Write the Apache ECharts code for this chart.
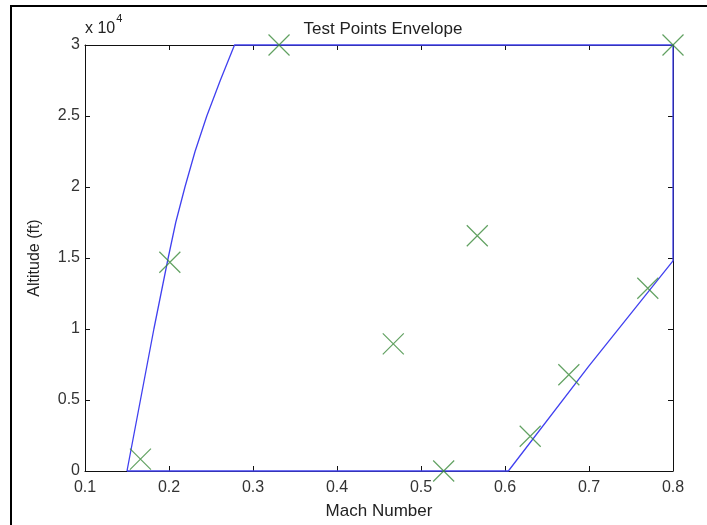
<!DOCTYPE html>
<html>
<head>
<meta charset="utf-8">
<script src="https://cdn.jsdelivr.net/npm/echarts@6/dist/echarts.min.js"></script>
<style>
  html, body { margin: 0; padding: 0; background: #fff; }
  #chart { width: 707px; height: 525px; }
</style>
</head>
<body>
<div id="chart"></div>
<script>
// Flight envelope outline (Mach, altitude in ft), traced as a closed loop
const envMach = [0.150, 0.166, 0.182, 0.199, 0.208, 0.219, 0.231, 0.245, 0.261, 0.278, 0.800, 0.800, 0.700, 0.604, 0.150];
const envAlt  = [0,     5000,  10000, 15000, 17500, 20000, 22500, 25000, 27500, 30000, 30000, 14800, 7400,  0,     0];

// Test points
const pointMach = [0.166, 0.201, 0.331, 0.467, 0.527, 0.567, 0.630, 0.676, 0.770, 0.800];
const pointAlt  = [840,   14700, 30000, 8950,  0,     16570, 2450,  6780,  12870, 30000];

const titleText = 'Test Points Envelope';
const xName = 'Mach Number';
const yName = 'Altitude (ft)';

const font = 'Liberation Sans, Arial, Helvetica, sans-serif';
const textColor = '#222';
const axisColor = '#111';

const envelope = envMach.map((m, i) => [m, envAlt[i]]);
const points = pointMach.map((m, i) => [m, pointAlt[i]]);

const chart = echarts.init(document.getElementById('chart'), null, { renderer: 'canvas' });

const baseX = {
  type: 'value', min: 0.1, max: 0.8, interval: 0.1,
  splitLine: { show: false },
  axisLine: { show: true, onZero: false, lineStyle: { color: axisColor, width: 1 } },
  axisTick: { show: true, inside: true, length: 5, lineStyle: { color: axisColor } }
};
const baseY = {
  type: 'value', min: 0, max: 30000, interval: 5000,
  splitLine: { show: false },
  axisLine: { show: true, onZero: false, lineStyle: { color: axisColor, width: 1 } },
  axisTick: { show: true, inside: true, length: 5, lineStyle: { color: axisColor } }
};

chart.setOption({
  animation: false,
  backgroundColor: '#fff',
  title: {
    text: titleText, left: 378, top: 16, textAlign: 'center',
    textStyle: { fontFamily: font, fontSize: 17, fontWeight: 'normal', color: textColor }
  },
  grid: { left: 85, right: 34, top: 45, bottom: 51, containLabel: false },
  xAxis: [
    Object.assign({}, baseX, {
      position: 'bottom',
      name: xName, nameLocation: 'middle', nameGap: 32,
      nameTextStyle: { fontFamily: font, fontSize: 17, color: textColor },
      axisLabel: {
        fontFamily: font, fontSize: 16, color: '#333', margin: 9,
        formatter: v => (Math.round(v * 10) / 10).toFixed(1)
      }
    }),
    Object.assign({}, baseX, { position: 'top', axisLabel: { show: false } })
  ],
  yAxis: [
    Object.assign({}, baseY, {
      position: 'left',
      name: yName, nameLocation: 'middle', nameGap: 42,
      nameTextStyle: { fontFamily: font, fontSize: 16, color: textColor },
      axisLabel: {
        fontFamily: font, fontSize: 16, color: '#333', margin: 5,
        formatter: v => String(v / 10000)
      }
    }),
    Object.assign({}, baseY, { position: 'right', axisLabel: { show: false } })
  ],
  graphic: [
    {
      type: 'polyline', silent: true,
      shape: { points: [[11, 525], [11, 6], [707, 6]] },
      style: { stroke: '#000', lineWidth: 2, fill: null }
    },
    {
      type: 'text', left: 85, top: 13, silent: true,
      style: {
        text: '{b|x 10}{s|4}',
        rich: {
          b: { fontFamily: font, fontSize: 16, fill: textColor, padding: [8, 0, 0, 0] },
          s: { fontFamily: font, fontSize: 11, fill: textColor, verticalAlign: 'top', padding: [0, 0, 0, 1] }
        }
      }
    }
  ],
  series: [
    {
      type: 'line', name: 'Envelope', data: envelope,
      xAxisIndex: 0, yAxisIndex: 0,
      showSymbol: false, symbol: 'none', smooth: false, clip: false,
      lineStyle: { color: '#4040f0', width: 1.3 },
      z: 3
    },
    {
      type: 'scatter', name: 'Test Points', data: points,
      xAxisIndex: 0, yAxisIndex: 0, clip: false,
      symbol: 'path://M0,0L10,10M10,0L0,10', symbolSize: 21,
      itemStyle: { color: 'none', borderColor: '#3a8a3a', borderWidth: 1.2 },
      z: 4
    }
  ]
});
</script>
</body>
</html>
